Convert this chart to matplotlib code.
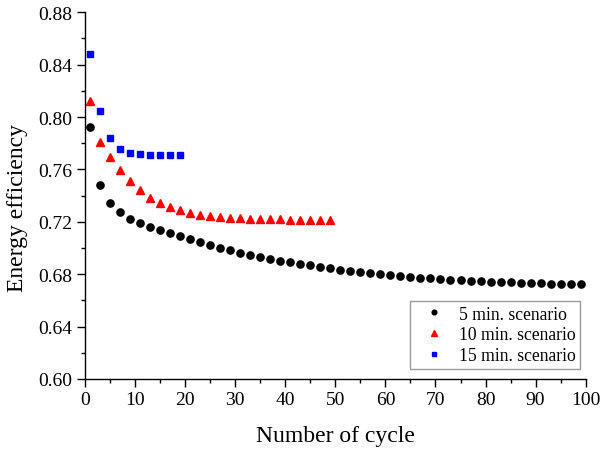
import matplotlib
matplotlib.use("Agg")
import matplotlib.pyplot as plt
from matplotlib.ticker import MultipleLocator, FormatStrFormatter

plt.rcParams['font.family'] = ['Liberation Serif', 'DejaVu Serif']

cycles_5 = list(range(1, 100, 2))
eff_5 = [0.7925, 0.7483, 0.7343, 0.7272, 0.7223, 0.7193, 0.7162, 0.7137, 0.7114, 0.7092,
         0.7068, 0.7043, 0.7022, 0.7002, 0.6984, 0.6964, 0.6946, 0.6931, 0.6916, 0.6903,
         0.6890, 0.6880, 0.6869, 0.6857, 0.6845, 0.6835, 0.6826, 0.6816, 0.6809, 0.6801,
         0.6795, 0.6788, 0.6781, 0.6774, 0.6768, 0.6763, 0.6758, 0.6754, 0.6750, 0.6747,
         0.6744, 0.6741, 0.6738, 0.6735, 0.6733, 0.6731, 0.6729, 0.6727, 0.6725, 0.6723]

cycles_10 = list(range(1, 50, 2))
eff_10 = [0.8124, 0.7806, 0.7692, 0.7595, 0.7513, 0.7442, 0.7383, 0.7343, 0.7315, 0.7287,
          0.7264, 0.7251, 0.7244, 0.7237, 0.7232, 0.7228, 0.7225, 0.7222, 0.7220, 0.7218,
          0.7217, 0.7216, 0.7215, 0.7214, 0.7213]

cycles_15 = list(range(1, 20, 2))
eff_15 = [0.8480, 0.8047, 0.7837, 0.7755, 0.7724, 0.7715, 0.7712, 0.7711, 0.7711, 0.7711]

labels = ['5 min. scenario', '10 min. scenario', '15 min. scenario']

fig = plt.figure(figsize=(6.01, 4.52), dpi=100)
ax = fig.add_axes([0.1414, 0.1593, 0.9745 - 0.1414, 0.9706 - 0.1593])

ax.plot(cycles_5, eff_5, linestyle='none', marker='o', color='black', markersize=5.2, label=labels[0])
ax.plot(cycles_10, eff_10, linestyle='none', marker='^', color='red', markersize=6.2, label=labels[1])
ax.plot(cycles_15, eff_15, linestyle='none', marker='s', color='blue', markersize=4.6, label=labels[2])

ax.set_xlim(0, 100)
ax.set_ylim(0.60, 0.88)
ax.xaxis.set_major_locator(MultipleLocator(10))
ax.xaxis.set_minor_locator(MultipleLocator(5))
ax.yaxis.set_major_locator(MultipleLocator(0.04))
ax.yaxis.set_minor_locator(MultipleLocator(0.02))
ax.yaxis.set_major_formatter(FormatStrFormatter('%.2f'))

for s in ['top', 'right']:
    ax.spines[s].set_visible(False)
for s in ['left', 'bottom']:
    ax.spines[s].set_linewidth(1.0)

ax.tick_params(which='major', direction='out', length=6, width=1.0, labelsize=14, pad=3)
ax.tick_params(which='minor', direction='out', length=3, width=1.0)

ax.set_xlabel('Number of cycle', fontsize=17, labelpad=12)
ax.set_ylabel('Energy efficiency', fontsize=17)
ax.yaxis.set_label_coords(-0.113, 0.47)

leg = ax.legend(loc='lower right', bbox_to_anchor=(0.988, 0.028), fontsize=12.7,
                frameon=True, fancybox=False, edgecolor='#808080', markerscale=0.65,
                labelspacing=0.22, handlelength=2.2, handletextpad=0.3, borderpad=0.25,
                borderaxespad=0.0)
leg.get_frame().set_linewidth(1.0)

fig.savefig('out.png', dpi=100)
